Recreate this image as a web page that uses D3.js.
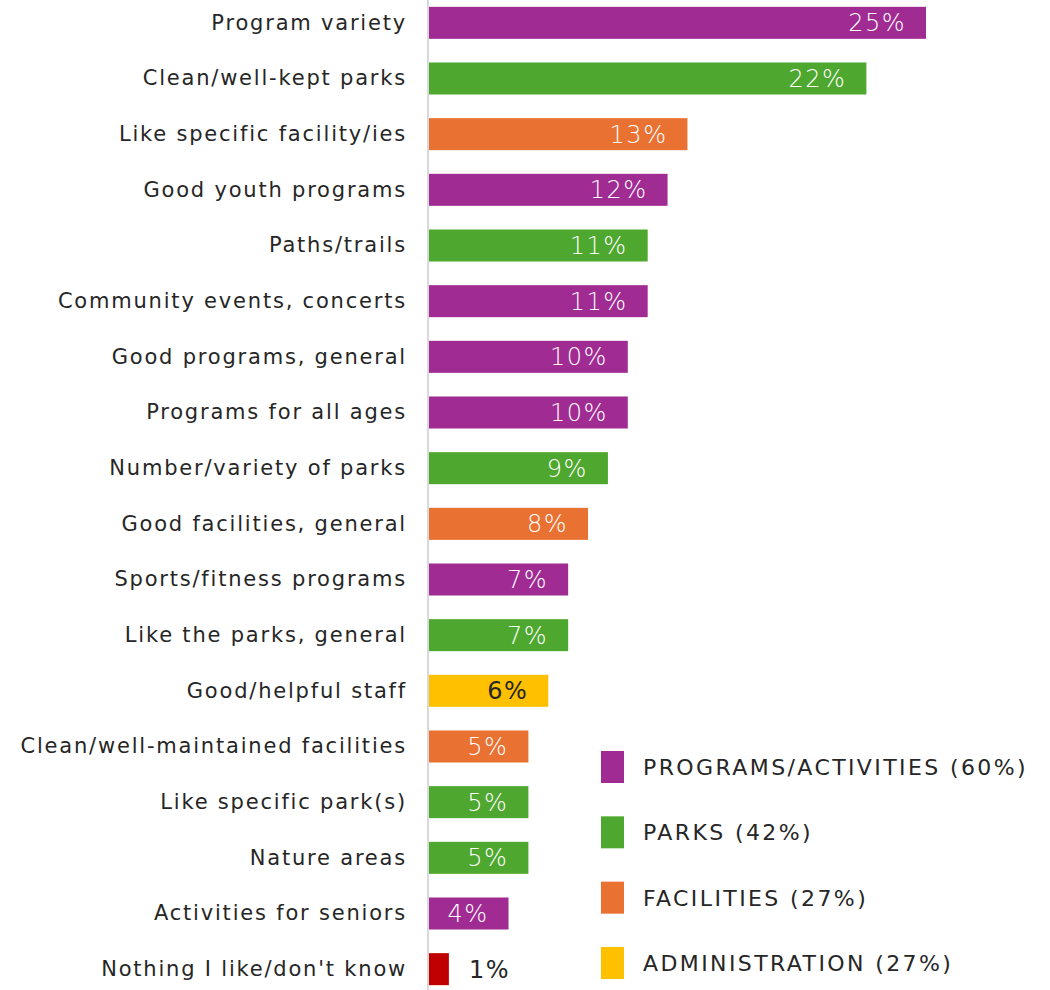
<!DOCTYPE html>
<html>
<head>
<meta charset="utf-8">
<script src="https://cdn.jsdelivr.net/npm/d3@7"></script>
<style>
  body { margin: 0; background: #fff; }
  text { font-family: "DejaVu Sans", sans-serif; }
</style>
</head>
<body>
<div id="chart"></div>
<script>
// rows, top to bottom
let categories = [
  'Program variety', 'Clean/well-kept parks', 'Like specific facility/ies',
  'Good youth programs', 'Paths/trails', 'Community events, concerts',
  'Good programs, general', 'Programs for all ages', 'Number/variety of parks',
  'Good facilities, general', 'Sports/fitness programs', 'Like the parks, general',
  'Good/helpful staff', 'Clean/well-maintained facilities', 'Like specific park(s)',
  'Nature areas', 'Activities for seniors', "Nothing I like/don't know"
];
let values = [25, 22, 13, 12, 11, 11, 10, 10, 9, 8, 7, 7, 6, 5, 5, 5, 4, 1];
let groups = ['prog', 'park', 'fac', 'prog', 'park', 'prog', 'prog', 'prog', 'park',
  'fac', 'prog', 'park', 'admin', 'fac', 'park', 'park', 'prog', 'none'];

let legendKeys = ['prog', 'park', 'fac', 'admin'];
let legendNames = ['PROGRAMS/ACTIVITIES', 'PARKS', 'FACILITIES', 'ADMINISTRATION'];
let legendPcts = [60, 42, 27, 27];

let width = 1050,
    height = 990,
    axisX = 428;

let colors = { prog: '#A02B93', park: '#4EA72E', fac: '#E97132', admin: '#FFC000', none: '#C00000' };

let svg = d3.select('#chart')
  .append('svg')
  .attr('width', width)
  .attr('height', height);

let xScale = d3.scaleLinear()
  .domain([0, 25])
  .range([axisX + 1, 926]);

let yScale = d3.scaleBand()
  .domain(categories)
  .range([-5, 997])
  .paddingInner(0.425)
  .paddingOuter(0.2125);

let rows = categories.map((c, i) => ({ cat: c, val: values[i], grp: groups[i] }));

svg.selectAll('rect.bar')
  .data(rows)
  .enter()
  .append('rect')
  .classed('bar', true)
  .attr('x', xScale(0))
  .attr('y', d => yScale(d.cat))
  .attr('width', d => xScale(d.val) - xScale(0))
  .attr('height', yScale.bandwidth())
  .attr('fill', d => colors[d.grp]);

// category axis on the left, no ticks
let yAxis = d3.axisLeft(yScale).tickSize(0).tickPadding(21);
let gy = svg.append('g')
  .attr('transform', `translate(${axisX}, 0)`)
  .call(yAxis);
gy.select('.domain').remove();
gy.selectAll('text')
  .style('font-size', '21px')
  .style('letter-spacing', '1.8px')
  .style('fill', '#262626')
  .style('font-family', '"DejaVu Sans", sans-serif');

svg.append('line')
  .attr('x1', axisX).attr('x2', axisX)
  .attr('y1', 0).attr('y2', height)
  .style('stroke', '#d9d9d9')
  .style('stroke-width', 2);

// value labels
let darkLabel = d => d.grp === 'admin' || d.val < 2;

svg.selectAll('text.val')
  .data(rows)
  .enter()
  .append('text')
  .classed('val', true)
  .attr('x', d => d.val < 2 ? xScale(d.val) + 20 : xScale(d.val) - 20)
  .attr('y', d => yScale(d.cat) + yScale.bandwidth() / 2)
  .attr('dy', '0.36em')
  .style('text-anchor', d => d.val < 2 ? 'start' : 'end')
  .style('font-size', '24px')
  .style('font-weight', d => darkLabel(d) ? 400 : 200)
  .style('letter-spacing', '1.5px')
  .style('fill', d => darkLabel(d) ? '#262626' : '#fff')
  .text(d => d.val + '%');

// legend
let legend = svg.append('g').attr('id', 'legend');
let ly = d3.scalePoint()
  .domain(legendKeys)
  .range([767, 963]);

legend.selectAll('rect')
  .data(legendKeys)
  .enter()
  .append('rect')
  .attr('x', 601)
  .attr('y', d => ly(d) - 16)
  .attr('width', 23)
  .attr('height', 32)
  .attr('fill', d => colors[d]);

legend.selectAll('text')
  .data(legendKeys)
  .enter()
  .append('text')
  .attr('x', 643)
  .attr('y', d => ly(d))
  .attr('dy', '0.36em')
  .style('font-size', '22px')
  .style('letter-spacing', '2.4px')
  .style('fill', '#262626')
  .text((d, i) => `${legendNames[i]} (${legendPcts[i]}%)`);
</script>
</body>
</html>
